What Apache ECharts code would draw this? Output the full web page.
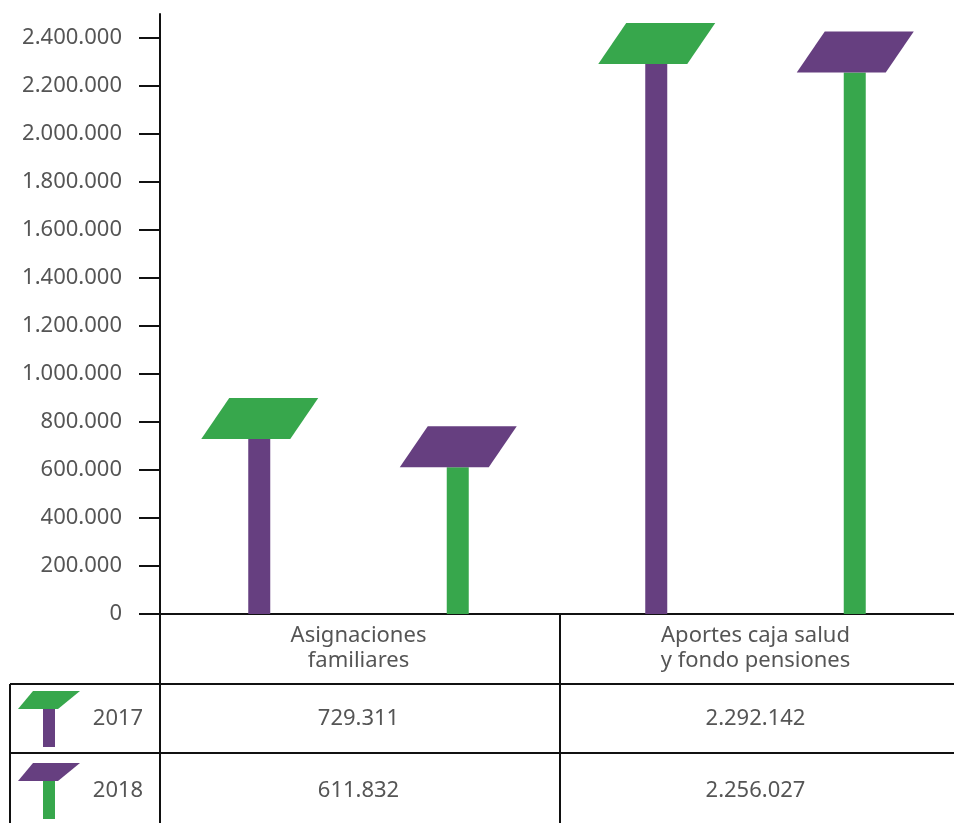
<!DOCTYPE html>
<html>
<head>
<meta charset="utf-8">
<script src="https://cdn.jsdelivr.net/npm/echarts@6/dist/echarts.min.js"></script>
<style>
html,body{margin:0;padding:0;background:#fff;}
#chart{width:954px;height:823px;}
</style>
</head>
<body>
<div id="chart"></div>
<script>
const categories = ['Asignaciones\nfamiliares', 'Aportes caja salud\ny fondo pensiones'];
const years = ['2017', '2018'];
const values2017 = [729311, 2292142];
const values2018 = [611832, 2256027];
const yTicks = [0, 200000, 400000, 600000, 800000, 1000000, 1200000, 1400000, 1600000, 1800000, 2000000, 2200000, 2400000];

const PURPLE = '#663F80';
const GREEN = '#37A74C';
const TEXT = '#555555';
const LINE = '#111111';
const FONT = 'Noto Sans, Open Sans, sans-serif';

function fmt(n) {
  return String(n).replace(/\B(?=(\d{3})+(?!\d))/g, '.');
}

function makeRender(offsetFrac, stemColor, capColor) {
  return function (params, api) {
    const cat = api.value(0);
    const val = api.value(1);
    const base = api.coord([cat, 0]);
    const top = api.coord([cat, val]);
    const band = api.size([1, 0])[0];
    const cx = base[0] + offsetFrac * band;
    const ty = top[1];
    return {
      type: 'group',
      children: [
        { type: 'rect', shape: { x: cx - 11, y: ty, width: 22, height: base[1] - ty }, style: { fill: stemColor } },
        { type: 'polygon', shape: { points: [[cx - 58, ty], [cx + 31, ty], [cx + 59, ty - 41], [cx - 30, ty - 41]] }, style: { fill: capColor } }
      ]
    };
  };
}

const chart = echarts.init(document.getElementById('chart'), null, { renderer: 'canvas' });

const option = {
  animation: false,
  backgroundColor: '#fff',
  grid: { left: 160, right: 0, top: 14, bottom: 209, containLabel: false },
  xAxis: {
    type: 'category',
    data: categories,
    axisLine: { show: true, lineStyle: { color: LINE, width: 2 } },
    axisTick: { show: false },
    axisLabel: { color: TEXT, fontSize: 22, lineHeight: 25, margin: 9, fontFamily: FONT },
    splitLine: { show: false }
  },
  yAxis: {
    type: 'value',
    min: 0,
    max: 2500000,
    axisLine: { show: true, lineStyle: { color: LINE, width: 2 } },
    axisTick: { show: true, length: 21, lineStyle: { color: LINE, width: 2 }, customValues: yTicks },
    axisLabel: { color: TEXT, fontSize: 22, margin: 38, fontFamily: FONT, formatter: function (v) { return fmt(v); }, customValues: yTicks },
    splitLine: { show: false }
  },
  series: [
    {
      name: years[0], type: 'custom', clip: false,
      renderItem: makeRender(-0.25, PURPLE, GREEN),
      encode: { x: 0, y: 1 },
      data: values2017.map(function (v, i) { return [i, v]; })
    },
    {
      name: years[1], type: 'custom', clip: false,
      renderItem: makeRender(0.25, GREEN, PURPLE),
      encode: { x: 0, y: 1 },
      data: values2018.map(function (v, i) { return [i, v]; })
    }
  ]
};
chart.setOption(option);

// Table below the chart
const colX = categories.map(function (c, i) { return chart.convertToPixel({ xAxisIndex: 0 }, i); });
const rowY = [719, 791];
const rows = [
  { year: years[0], vals: values2017, stem: PURPLE, cap: GREEN },
  { year: years[1], vals: values2018, stem: GREEN, cap: PURPLE }
];
const g = [];
function hline(x1, x2, y) { g.push({ type: 'line', shape: { x1: x1, y1: y, x2: x2, y2: y }, style: { stroke: LINE, lineWidth: 2 }, z: 10 }); }
function vline(x, y1, y2) { g.push({ type: 'line', shape: { x1: x, y1: y1, x2: x, y2: y2 }, style: { stroke: LINE, lineWidth: 2 }, z: 10 }); }
vline(160, 614, 823);
vline(560, 614, 823);
vline(10, 684, 823);
hline(10, 954, 684);
hline(10, 954, 753);
rows.forEach(function (r, ri) {
  const y = rowY[ri];
  g.push({ type: 'polygon', shape: { points: [[18, y - 10], [58, y - 10], [80, y - 28], [33, y - 28]] }, style: { fill: r.cap }, z: 10 });
  g.push({ type: 'rect', shape: { x: 43, y: y - 10, width: 12, height: 38 }, style: { fill: r.stem }, z: 10 });
  g.push({ type: 'text', x: 118, y: y, style: { text: r.year, fill: TEXT, fontSize: 22, fontFamily: FONT, align: 'center', verticalAlign: 'middle' }, z: 10 });
  r.vals.forEach(function (v, ci) {
    g.push({ type: 'text', x: colX[ci], y: y, style: { text: fmt(v), fill: TEXT, fontSize: 22, fontFamily: FONT, align: 'center', verticalAlign: 'middle' }, z: 10 });
  });
});
chart.setOption({ graphic: g });
</script>
</body>
</html>
